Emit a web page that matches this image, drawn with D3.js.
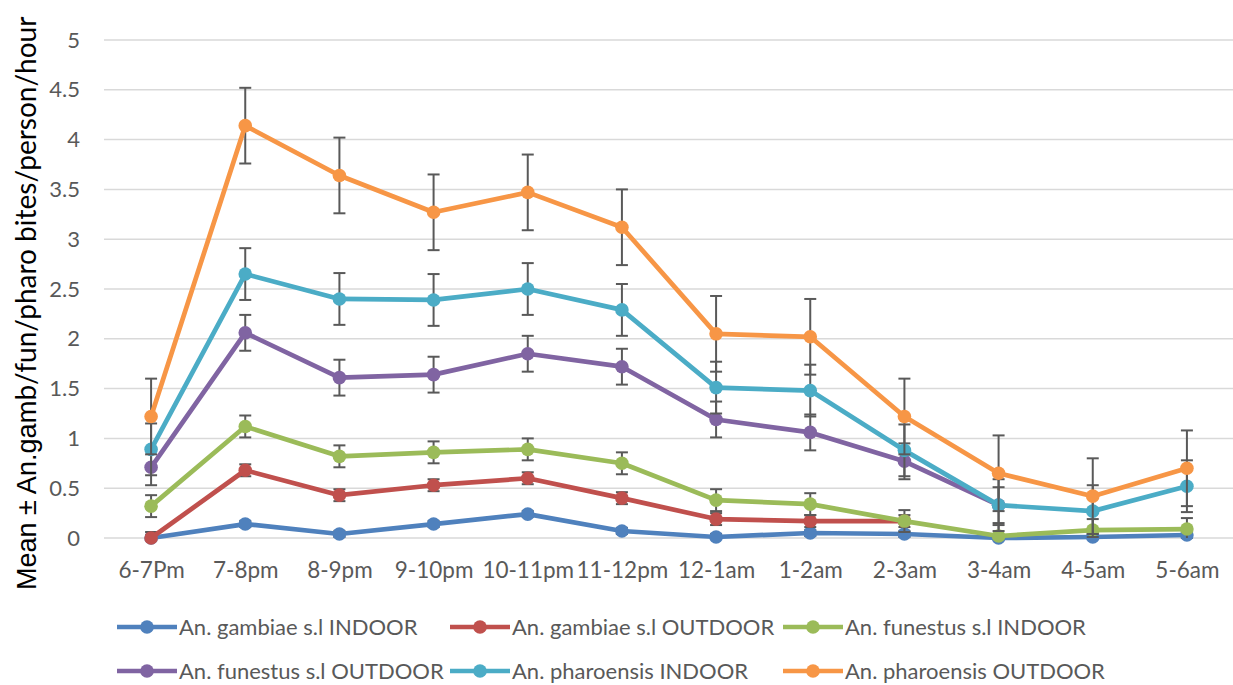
<!DOCTYPE html>
<html>
<head>
<meta charset="utf-8">
<script src="https://cdn.jsdelivr.net/npm/d3@7/dist/d3.min.js"></script>
<style>
  html, body { margin: 0; padding: 0; background: #fff; }
  svg { display: block; }
  text { font-family: Lato, "Open Sans", sans-serif; }
</style>
</head>
<body>
<svg id="chart" width="1233" height="685"></svg>
<script>
// Hourly biting periods
const hours = ["6-7Pm", "7-8pm", "8-9pm", "9-10pm", "10-11pm", "11-12pm",
               "12-1am", "1-2am", "2-3am", "3-4am", "4-5am", "5-6am"];

// Mean bites/person/hour per species and location (null = no value)
const gambiaeIndoor   = [0.00, 0.14, 0.04, 0.14, 0.24, 0.07, 0.01, 0.05, 0.04, 0.00, 0.01, 0.03];
const gambiaeOutdoor  = [0.00, 0.68, 0.43, 0.53, 0.60, 0.40, 0.19, 0.17, 0.17, null, null, null];
const funestusIndoor  = [0.32, 1.12, 0.82, 0.86, 0.89, 0.75, 0.38, 0.34, 0.17, 0.02, 0.08, 0.09];
const funestusOutdoor = [0.71, 2.06, 1.61, 1.64, 1.85, 1.72, 1.19, 1.06, 0.77, 0.33, null, null];
const pharoIndoor     = [0.89, 2.65, 2.40, 2.39, 2.50, 2.29, 1.51, 1.48, 0.88, 0.33, 0.27, 0.52];
const pharoOutdoor    = [1.22, 4.14, 3.64, 3.27, 3.47, 3.12, 2.05, 2.02, 1.22, 0.65, 0.42, 0.70];

// Standard error of each series
const stdErrors = [0.03, 0.06, 0.11, 0.18, 0.26, 0.38];

const seriesNames = ["An. gambiae s.l INDOOR", "An. gambiae s.l OUTDOOR", "An. funestus s.l INDOOR",
                     "An. funestus s.l OUTDOOR", "An. pharoensis INDOOR", "An. pharoensis OUTDOOR"];
const seriesValues = [gambiaeIndoor, gambiaeOutdoor, funestusIndoor, funestusOutdoor, pharoIndoor, pharoOutdoor];
const seriesColors = ["#4F81BD", "#C0504D", "#9BBB59", "#8064A2", "#4BACC6", "#F79646"];

const yTicks = [0, 0.5, 1, 1.5, 2, 2.5, 3, 3.5, 4, 4.5, 5];

const svg = d3.select("#chart");

const x = d3.scalePoint().domain(hours).range([104, 1234]).padding(0.5);
const y = d3.scaleLinear().domain([0, 5]).range([538, 40]);

// Horizontal gridlines
svg.append("g")
  .selectAll("line")
  .data(yTicks)
  .join("line")
  .attr("x1", 104).attr("x2", 1233)
  .attr("y1", d => y(d)).attr("y2", d => y(d))
  .attr("stroke", "#D9D9D9").attr("stroke-width", 1.5);

// Y axis labels
const yAxis = d3.axisLeft(y).tickValues(yTicks).tickSize(0).tickPadding(0)
  .tickFormat(d => String(d));
svg.append("g")
  .attr("transform", "translate(80,0)")
  .call(yAxis)
  .call(g => g.select(".domain").remove())
  .selectAll("text")
  .attr("font-size", 22).attr("fill", "#595959")
  .style("font-family", "Lato, sans-serif");

// X axis labels
const xAxis = d3.axisBottom(x).tickSize(0).tickPadding(0);
svg.append("g")
  .call(xAxis)
  .call(g => g.select(".domain").remove())
  .selectAll("text")
  .attr("y", 578).attr("dy", 0)
  .attr("font-size", 22.5).attr("fill", "#595959")
  .style("font-family", "Lato, sans-serif");

// Y axis title (mixed-font run)
const title = svg.append("text")
  .attr("transform", "translate(36,590) rotate(-90)")
  .attr("text-anchor", "start")
  .attr("fill", "#000");
title.append("tspan")
  .style("font-family", '"Liberation Sans", Arial, sans-serif')
  .attr("font-size", 27)
  .text("Mean ± An.ga");
title.append("tspan")
  .style("font-family", "Lato, sans-serif")
  .attr("font-size", 28)
  .text("mb/fun/pharo bites/person/hour");

// Series: error bars, line, markers
const line = d3.line()
  .defined(d => d.v !== null)
  .x(d => x(d.h))
  .y(d => y(d.v));

seriesValues.forEach((vals, i) => {
  const pts = vals.map((v, j) => ({ h: hours[j], v }));
  const valid = pts.filter(p => p.v !== null);
  const err = stdErrors[i];
  const g = svg.append("g");

  const eb = g.append("g").attr("stroke", "#595959").attr("stroke-width", 2);
  eb.selectAll("line.v").data(valid).join("line").attr("class", "v")
    .attr("x1", d => x(d.h)).attr("x2", d => x(d.h))
    .attr("y1", d => y(d.v + err)).attr("y2", d => y(Math.max(0, d.v - err)));
  eb.selectAll("line.t").data(valid).join("line").attr("class", "t")
    .attr("x1", d => x(d.h) - 6).attr("x2", d => x(d.h) + 6)
    .attr("y1", d => y(d.v + err)).attr("y2", d => y(d.v + err));
  eb.selectAll("line.b").data(valid.filter(d => d.v - err >= 0)).join("line").attr("class", "b")
    .attr("x1", d => x(d.h) - 6).attr("x2", d => x(d.h) + 6)
    .attr("y1", d => y(d.v - err)).attr("y2", d => y(d.v - err));

  g.append("path")
    .datum(pts)
    .attr("d", line)
    .attr("fill", "none")
    .attr("stroke", seriesColors[i])
    .attr("stroke-width", 4.7)
    .attr("stroke-linejoin", "round");

  g.selectAll("circle").data(valid).join("circle")
    .attr("cx", d => x(d.h)).attr("cy", d => y(d.v))
    .attr("r", 6.8)
    .attr("fill", seriesColors[i]);
});

// Legend: two rows of three
const legend = svg.append("g");
seriesNames.forEach((name, i) => {
  const col = i % 3, row = Math.floor(i / 3);
  const lx = 117 + col * 333, ly = 627 + row * 44;
  const item = legend.append("g");
  item.append("line")
    .attr("x1", lx).attr("x2", lx + 60)
    .attr("y1", ly).attr("y2", ly)
    .attr("stroke", seriesColors[i]).attr("stroke-width", 4.7);
  item.append("circle")
    .attr("cx", lx + 30).attr("cy", ly).attr("r", 6.8)
    .attr("fill", seriesColors[i]);
  item.append("text")
    .attr("x", lx + 62).attr("y", ly)
    .attr("dy", "0.35em")
    .attr("font-size", 22)
    .attr("fill", "#595959")
    .text(name);
});
</script>
</body>
</html>
